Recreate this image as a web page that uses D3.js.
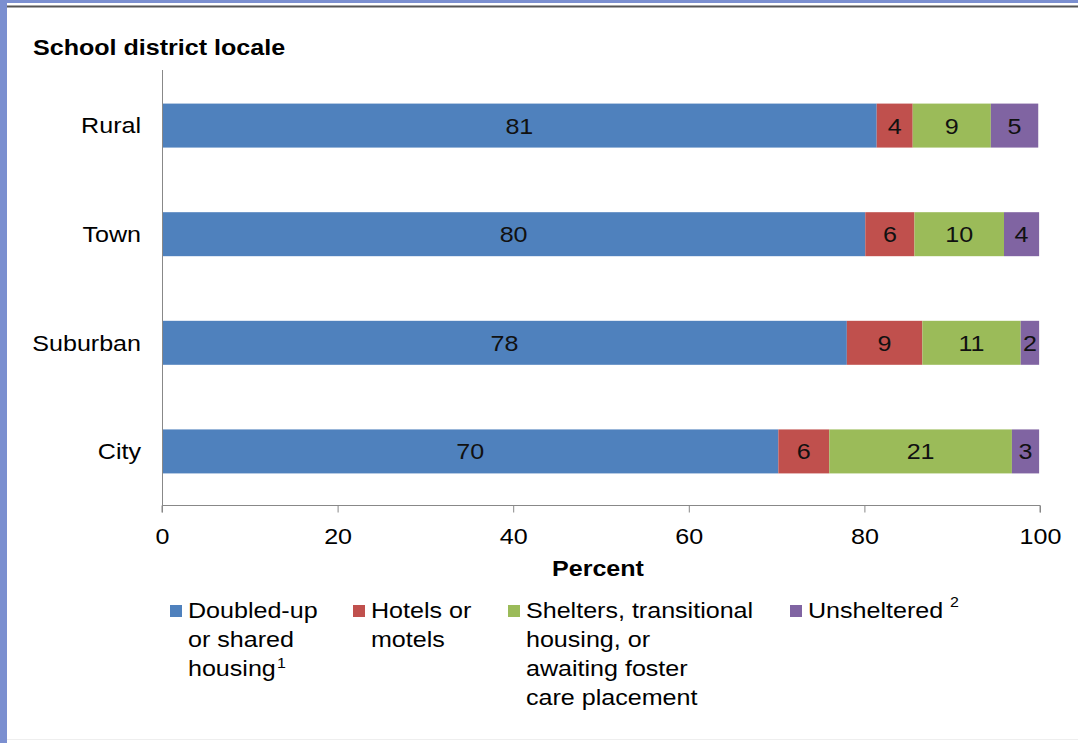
<!DOCTYPE html>
<html><head><meta charset="utf-8">
<script src="https://cdn.jsdelivr.net/npm/d3@7"></script>
<style>
html,body{margin:0;padding:0;background:#fff;}
svg{display:block;font-family:"Liberation Sans",Arial,sans-serif;}
</style></head>
<body>
<svg id="c" width="1078" height="743"></svg>
<script>
const categories = ["Rural","Town","Suburban","City"];
const seriesNames = ["Doubled-up","Hotels","Shelters","Unsheltered"];
const doubledUp   = [81.4, 80.1, 78.0, 70.2];
const hotels      = [4.1, 5.6, 8.6, 5.8];
const shelters    = [8.9, 10.2, 11.2, 20.8];
const unsheltered = [5.4, 4.0, 2.1, 3.1];
const xTicks = [0,20,40,60,80,100];
const colors = ["#4F81BD","#C0504D","#9BBB59","#8064A2"];
const legendItems = [
  {lines:["Doubled-up","or shared","housing"], sup:"1", x:170},
  {lines:["Hotels or","motels"], sup:null, x:353},
  {lines:["Shelters, transitional","housing, or","awaiting foster","care placement"], sup:null, x:508},
  {lines:["Unsheltered"], sup:"2", x:790, supGap:true}
];

const FS = 22, STRETCH = 1.14;
const svg = d3.select("#c");
// frame
svg.append("rect").attr("x",0).attr("y",0).attr("width",1078).attr("height",3).attr("fill","#7B8FD0");
svg.append("rect").attr("x",0).attr("y",0).attr("width",7).attr("height",743).attr("fill","#7B8FD0");
svg.append("rect").attr("x",7).attr("y",5.5).attr("width",1071).attr("height",2).attr("fill","#555");
svg.append("rect").attr("x",7).attr("y",739).attr("width",1071).attr("height",1).attr("fill","#eee");

const table = categories.map((c,i)=>({cat:c, "Doubled-up":doubledUp[i], "Hotels":hotels[i], "Shelters":shelters[i], "Unsheltered":unsheltered[i]}));
const stack = d3.stack().keys(seriesNames)(table);

const x = d3.scaleLinear().domain([0,100]).range([162,1040]);
const y = d3.scaleBand().domain(categories).range([71,506]).paddingInner(0.595).paddingOuter(0.3);

// title
svg.append("text").attr("x",33).attr("y",55).attr("font-size",FS).attr("font-weight","bold").attr("fill","#000").text("School district locale");

// bars
const g = svg.append("g");
stack.forEach((s,si)=>{
  g.selectAll(null).data(s).enter().append("rect")
    .attr("x",d=>x(d[0])).attr("width",d=>x(d[1])-x(d[0]))
    .attr("y",d=>y(d.data.cat)).attr("height",y.bandwidth())
    .attr("fill",colors[si]);
  g.selectAll(null).data(s).enter().append("text")
    .attr("x",d=>(x(d[0])+x(d[1]))/2).attr("y",d=>y(d.data.cat)+y.bandwidth()/2+8)
    .attr("text-anchor","middle").attr("font-size",FS).attr("fill","#111")
    .text(d=>Math.round(d[1]-d[0]));
});

// y axis
const yAxis = svg.append("g").attr("transform","translate(162,0)")
  .call(d3.axisLeft(y).tickSize(0).tickPadding(21));
yAxis.select(".domain").attr("stroke","#888").attr("d","M0.5,70V506");
yAxis.selectAll("text").attr("font-size",FS).attr("fill","#000").attr("font-family","Liberation Sans, Arial, sans-serif").attr("dy","0.35em");

// x axis
const xAxis = svg.append("g").attr("transform","translate(0,505.5)")
  .call(d3.axisBottom(x).tickValues(xTicks).tickSize(7).tickPadding(16).tickFormat(d3.format("d")));
xAxis.select(".domain").attr("stroke","#888").attr("d","M162,7V0H1040V7");
xAxis.selectAll(".tick line").attr("stroke","#888");
xAxis.selectAll("text").attr("font-size",FS).attr("fill","#000").attr("font-family","Liberation Sans, Arial, sans-serif");

svg.append("text").attr("x",598).attr("y",576).attr("text-anchor","middle").attr("font-size",FS).attr("font-weight","bold").attr("fill","#000").text("Percent");

// legend
legendItems.forEach((it,i)=>{
  svg.append("rect").attr("x",it.x).attr("y",605).attr("width",12).attr("height",12).attr("fill",colors[i]);
  const t = svg.append("text").attr("x",it.x+18).attr("font-size",FS).attr("fill","#000");
  it.lines.forEach((ln,li)=>{
    t.append("tspan").attr("x",it.x+18).attr("y",618+li*29).text(ln);
  });
  if(it.sup){
    t.append("tspan").attr("dx", it.supGap?6:1).attr("dy",it.supGap?-11:-8).attr("font-size",14).text(it.sup);
  }
});

// horizontal stretch of text to match reference glyph widths
svg.selectAll("text").each(function(){
  const ax = parseFloat(this.getAttribute("x")) || 0;
  d3.select(this).attr("transform",`translate(${ax},0) scale(${STRETCH},1) translate(${-ax},0)`);
});
</script>
</body></html>
